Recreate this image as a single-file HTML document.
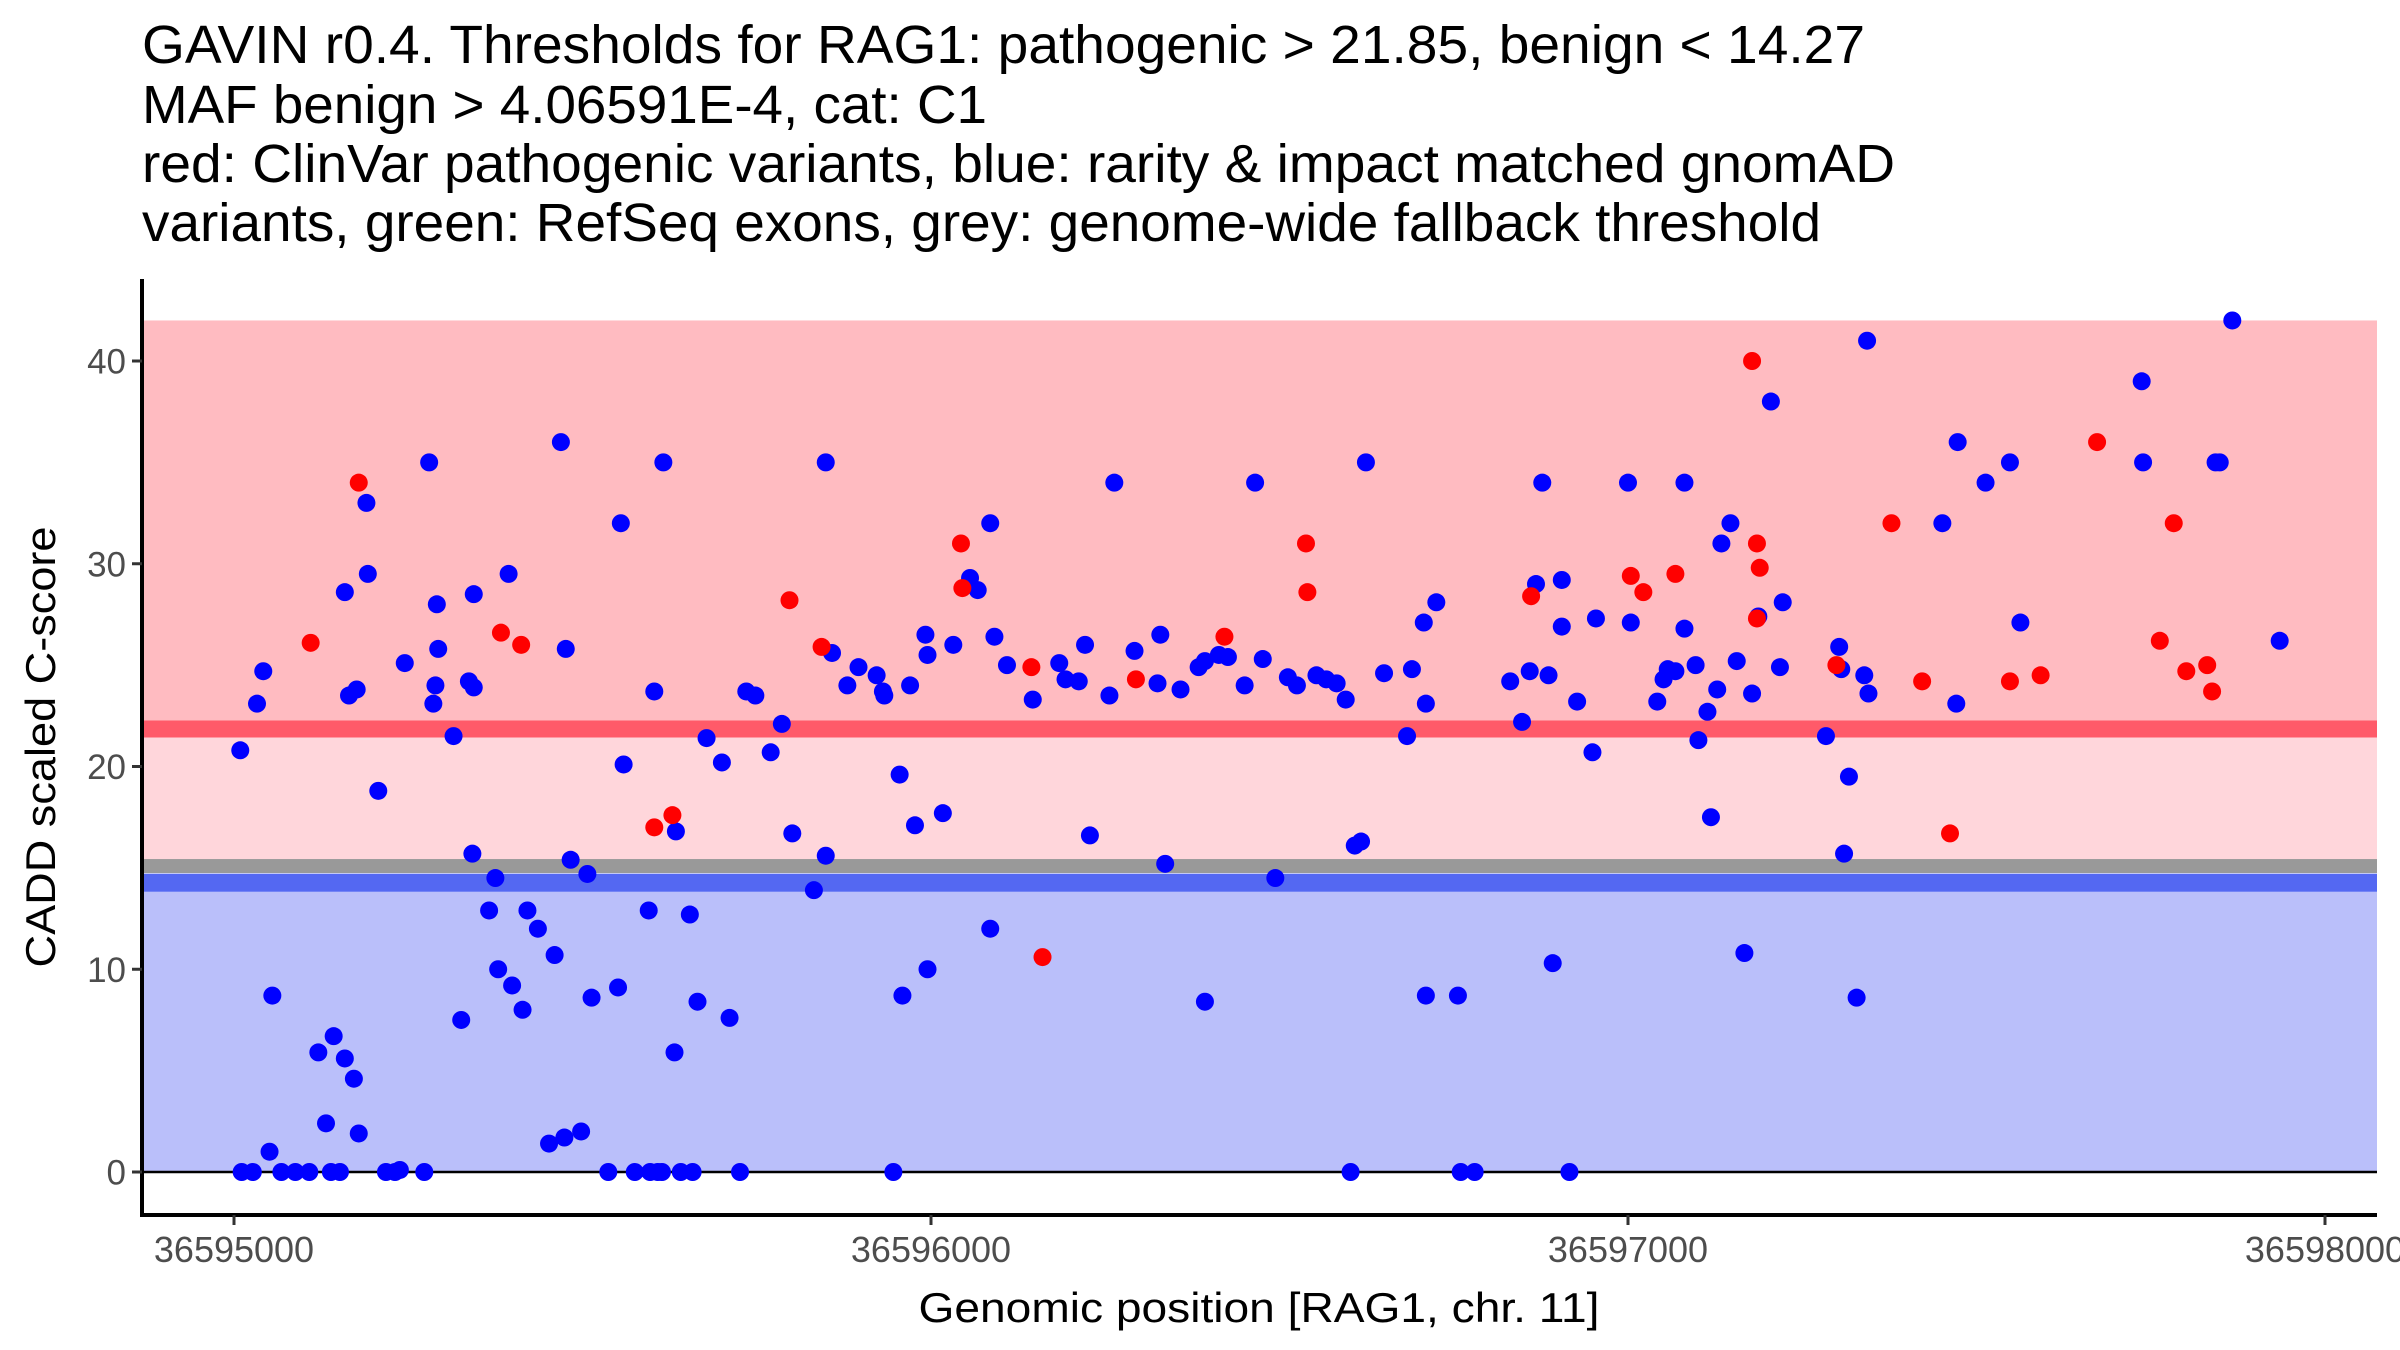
<!DOCTYPE html>
<html><head><meta charset="utf-8"><style>
html,body{margin:0;padding:0;background:#fff;}
svg{display:block;font-family:"Liberation Sans",Arial,sans-serif;}
</style></head><body>
<svg id="chart" width="2400" height="1350" viewBox="0 0 2400 1350" xmlns="http://www.w3.org/2000/svg">
<g font-size="54" fill="#000">
<text x="142" y="63" textLength="1723" lengthAdjust="spacingAndGlyphs">GAVIN r0.4. Thresholds for RAG1: pathogenic &gt; 21.85, benign &lt; 14.27</text>
<text x="142" y="123" textLength="845" lengthAdjust="spacingAndGlyphs">MAF benign &gt; 4.06591E-4, cat: C1</text>
<text x="142" y="182" textLength="1753" lengthAdjust="spacingAndGlyphs">red: ClinVar pathogenic variants, blue: rarity &amp; impact matched gnomAD</text>
<text x="142" y="241" textLength="1679" lengthAdjust="spacingAndGlyphs">variants, green: RefSeq exons, grey: genome-wide fallback threshold</text>
</g>
<g id="bands"></g>
<g id="points"></g>
<g id="axes"></g>
</svg>
<script>
const xTicks = [36595000, 36596000, 36597000, 36598000];
const yTicks = [0, 10, 20, 30, 40];
const pathogenicThreshold = 21.85;
const benignThreshold = 14.27;
const fallbackThreshold = 15.09;
const bandTop = 42;
const bluePos = [36595009,36595011,36595027,36595033,36595042,36595051,36595055,36595068,36595088,36595108,36595121,36595132,36595143,36595139,36595152,36595159,36595159,36595165,36595172,36595176,36595179,36595190,36595192,36595207,36595218,36595231,36595238,36595245,36595273,36595280,36595286,36595289,36595291,36595293,36595315,36595326,36595337,36595342,36595344,36595344,36595366,36595375,36595379,36595394,36595399,36595414,36595421,36595436,36595460,36595452,36595469,36595474,36595476,36595483,36595498,36595507,36595513,36595537,36595551,36595555,36595559,36595575,36595595,36595597,36595603,36595608,36595614,36595616,36595634,36595632,36595641,36595654,36595658,36595665,36595678,36595700,36595711,36595726,36595735,36595748,36595770,36595786,36595801,36595832,36595849,36595849,36595858,36595880,36595896,36595922,36595931,36595933,36595946,36595955,36595959,36595970,36595977,36595992,36595995,36595995,36596017,36596032,36596056,36596067,36596085,36596085,36596091,36596109,36596146,36596184,36596193,36596212,36596221,36596228,36596256,36596263,36596292,36596325,36596329,36596336,36596358,36596384,36596393,36596393,36596413,36596426,36596450,36596465,36596476,36596494,36596512,36596525,36596553,36596567,36596582,36596595,36596602,36596608,36596617,36596624,36596650,36596683,36596690,36596707,36596710,36596710,36596725,36596756,36596760,36596780,36596831,36596848,36596859,36596868,36596877,36596886,36596892,36596905,36596905,36596916,36596927,36596949,36596954,36597000,36597004,36597042,36597051,36597057,36597068,36597081,36597081,36597097,36597101,36597114,36597119,36597128,36597134,36597147,36597156,36597167,36597178,36597187,36597205,36597218,36597222,36597284,36597303,36597306,36597310,36597317,36597328,36597339,36597343,36597345,36597451,36597471,36597473,36597513,36597548,36597563,36597737,36597739,36597843,36597849,36597867,36597935];
const blueScore = [20.8,0,0,23.1,24.7,1.0,8.7,0,0,0,5.9,2.4,6.7,0,0,5.6,28.6,23.5,4.6,23.8,1.9,33,29.5,18.8,0,0,0.1,25.1,0,35,23.1,24,28,25.8,21.5,7.5,24.2,15.7,23.9,28.5,12.9,14.5,10,29.5,9.2,8,12.9,12,10.7,1.4,36,1.7,25.8,15.4,2,14.7,8.6,0,9.1,32,20.1,0,12.9,0,23.7,0,0,35,16.8,5.9,0,12.7,0,8.4,21.4,20.2,7.6,0,23.7,23.5,20.7,22.1,16.7,13.9,35,15.6,25.6,24,24.9,24.5,23.7,23.5,0,19.6,8.7,24,17.1,26.5,25.5,10,17.7,26,29.3,28.7,32,12,26.4,25,23.3,25.1,24.3,24.2,26,16.6,23.5,34,25.7,24.1,26.5,15.2,23.8,24.9,25.2,8.4,25.5,25.4,24,34,25.3,14.5,24.4,24,24.5,24.3,24.1,23.3,0,16.1,16.3,35,24.6,21.5,24.8,27.1,23.1,8.7,28.1,8.7,0,0,24.2,22.2,24.7,29,34,24.5,10.3,26.9,29.2,0,23.2,20.7,27.3,34,27.1,23.2,24.3,24.8,24.7,34,26.8,25,21.3,22.7,17.5,23.8,31,32,25.2,10.8,23.6,27.4,38,24.9,28.1,21.5,25.9,24.8,15.7,19.5,8.6,24.5,41,23.6,32,23.1,36,34,35,27.1,39,35,35,35,42,26.2];
const redPos = [36595110,36595179,36595383,36595412,36595603,36595629,36595797,36595843,36596043,36596045,36596144,36596160,36596294,36596421,36596538,36596540,36596861,36597004,36597022,36597068,36597178,36597185,36597189,36597185,36597299,36597378,36597422,36597462,36597548,36597592,36597673,36597763,36597783,36597801,36597831,36597838];
const redScore = [26.1,34,26.6,26,17,17.6,28.2,25.9,31,28.8,24.9,10.6,24.3,26.4,31,28.6,28.4,29.4,28.6,29.5,40,31,29.8,27.3,25,32,24.2,16.7,24.2,24.5,36,26.2,32,24.7,25,23.7];

const NS='http://www.w3.org/2000/svg';
const L=142, R=2377, B=1215, T=279;
function xs(p){return 234+(p-36595000)*0.697;}
function ys(s){return 1172-s*20.275;}
function mk(tag,attrs,parent){const e=document.createElementNS(NS,tag);for(const k in attrs)e.setAttribute(k,attrs[k]);parent.appendChild(e);return e;}
const bands=document.getElementById('bands');
let e;
e=mk('rect',{x:L+2,y:ys(bandTop),width:R-L-2,height:ys(pathogenicThreshold)-ys(bandTop),fill:'#FFBBC1'},bands);


e=mk('rect',{x:L+2,y:ys(pathogenicThreshold),width:R-L-2,height:ys(fallbackThreshold)-ys(pathogenicThreshold),fill:'#FFD6DB'},bands);


e=mk('rect',{x:L+2,y:ys(benignThreshold-0.4),width:R-L-2,height:ys(0)-ys(benignThreshold-0.4),fill:'#BABFFA'},bands);


e=mk('rect',{x:L+2,y:ys(pathogenicThreshold)-8.5,width:R-L-2,height:17,fill:'#FF5A69'},bands);


e=mk('rect',{x:L+2,y:ys(fallbackThreshold)-7,width:R-L-2,height:14,fill:'#999999'},bands);


e=mk('rect',{x:L+2,y:ys(benignThreshold)-9,width:R-L-2,height:18,fill:'#5468F2'},bands);


e=mk('line',{x1:L,x2:R,y1:ys(0),y2:ys(0),stroke:'#000','stroke-width':2.5},bands);



const pts=document.getElementById('points');
for(let i=0;i<bluePos.length;i++){
  const c=mk('circle',{cx:xs(bluePos[i]),cy:ys(blueScore[i]),r:9,fill:'#0000FF'},pts);
  
  
}
for(let i=0;i<redPos.length;i++){
  const c=mk('circle',{cx:xs(redPos[i]),cy:ys(redScore[i]),r:9,fill:'#FF0000'},pts);
  
  
}
const ax=document.getElementById('axes');
e=mk('line',{x1:L,x2:L,y1:T,y2:B+2,stroke:'#000','stroke-width':4},ax);


e=mk('line',{x1:L-2,x2:R,y1:B,y2:B,stroke:'#000','stroke-width':4},ax);


xTicks.forEach(v=>{
  const t=mk('line',{x1:xs(v),x2:xs(v),y1:B,y2:B+10,stroke:'#333','stroke-width':3},ax);
  
  
  const l=mk('text',{x:xs(v),y:1262,'text-anchor':'middle','font-size':36,fill:'#4d4d4d'},ax);
  l.textContent=v;
  
  
});
yTicks.forEach(v=>{
  const t=mk('line',{x1:L-10,x2:L,y1:ys(v),y2:ys(v),stroke:'#333','stroke-width':3},ax);
  
  
  const l=mk('text',{x:L-16,y:ys(v)+12.5,'text-anchor':'end','font-size':35,fill:'#4d4d4d'},ax);
  l.textContent=v;
  
  
});
e=mk('text',{x:1259,y:1322,'text-anchor':'middle','font-size':42,fill:'#000',textLength:681,lengthAdjust:'spacingAndGlyphs'},ax);
e.textContent='Genomic position [RAG1, chr. 11]';


e=mk('text',{x:0,y:0,'text-anchor':'middle','font-size':42,fill:'#000',textLength:441,lengthAdjust:'spacingAndGlyphs',transform:'translate(55,747) rotate(-90)'},ax);
e.textContent='CADD scaled C-score';


</script>
</body></html>
